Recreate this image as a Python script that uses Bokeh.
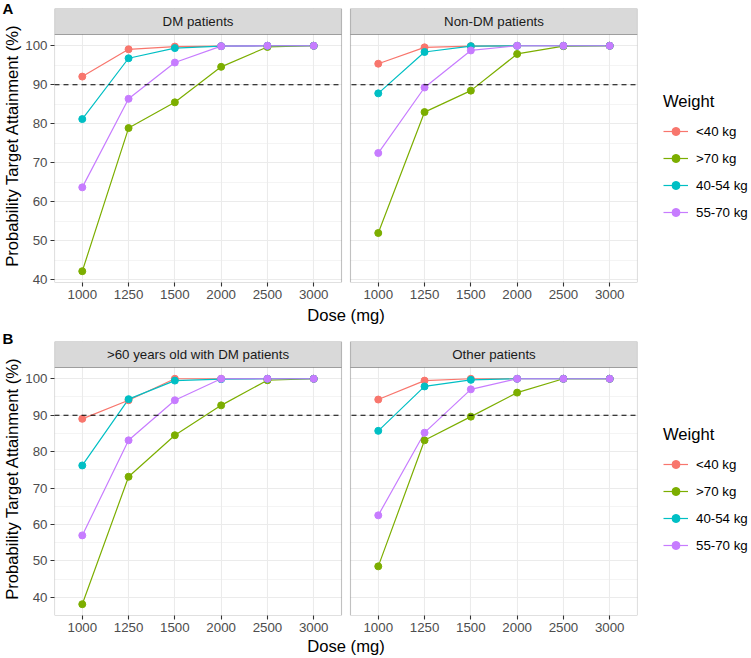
from bokeh.plotting import figure
from bokeh.layouts import column
from bokeh.models import (FactorRange, Range1d, FixedTicker, Span, BoxAnnotation,
                          Label, Legend, LegendItem, Title)
from bokeh.embed import file_html
from bokeh.resources import INLINE

# ---- data -------------------------------------------------------------
doses = ["1000", "1250", "1500", "2000", "2500", "3000"]
weight_groups = ["<40 kg", ">70 kg", "40-54 kg", "55-70 kg"]
group_colors = ["#F8766D", "#7CAE00", "#00BFC4", "#C77CFF"]

dm_lt40 = [92.1, 99.1, 99.8, 99.9, 100, 100]
dm_gt70 = [42.2, 78.9, 85.5, 94.6, 99.7, 100]
dm_40_54 = [81.2, 96.8, 99.4, 99.9, 100, 100]
dm_55_70 = [63.7, 86.4, 95.7, 99.9, 100, 100]

nondm_lt40 = [95.4, 99.6, 99.9, 100, 100, 100]
nondm_gt70 = [52.0, 83.0, 88.5, 97.9, 99.9, 100]
nondm_40_54 = [87.8, 98.4, 99.9, 100, 100, 100]
nondm_55_70 = [72.5, 89.3, 98.8, 100, 100, 100]

old_dm_lt40 = [89.0, 94.1, 100, 100, 100, 100]
old_dm_gt70 = [38.1, 73.1, 84.5, 92.7, 99.6, 100]
old_dm_40_54 = [76.2, 94.4, 99.5, 99.9, 100, 100]
old_dm_55_70 = [57.0, 83.1, 94.1, 100, 100, 100]

other_lt40 = [94.3, 99.5, 100, 100, 100, 100]
other_gt70 = [48.5, 83.1, 89.6, 96.2, 100, 100]
other_40_54 = [85.7, 97.9, 99.7, 100, 100, 100]
other_55_70 = [62.5, 85.2, 97.1, 100, 100, 100]

target_line = 90
y_ticks = [40, 50, 60, 70, 80, 90, 100]
y_minor = [45, 55, 65, 75, 85, 95]

# ---- styling ----------------------------------------------------------
FONT = "Liberation Sans"
FRAME_W, FRAME_H, STRIP_H = 583, 274, 26
BORDER_L, BORDER_R = 54, 114
EDGE = 0.6          # gap from a panel edge to its outer dose, in category units
GAP = 0.194         # white space between the two facets, in category units
DARK = "#333333"
GRID = "#EBEBEB"
N = len(doses)


def y_limits(series):
    lo = min(min(s) for s in series)
    hi = max(max(s) for s in series)
    pad = 0.05 * (hi - lo)
    return lo - pad, hi + pad


def half(tag, tag_standoff, names, panels, border_top, border_bottom, xlab_standoff):
    lo, hi = y_limits([s for ser in panels for s in ser])
    per_unit = (FRAME_H - STRIP_H) / (hi - lo)
    top = hi + STRIP_H / per_unit

    factors = [(nm, d) for nm in names for d in doses]
    xr = FactorRange(*factors, factor_padding=0, group_padding=2 * EDGE + GAP - 1,
                     range_padding=EDGE - 0.5, range_padding_units="absolute")

    p = figure(x_range=xr, y_range=Range1d(lo, top),
               frame_width=FRAME_W, frame_height=FRAME_H,
               min_border_left=BORDER_L, min_border_right=BORDER_R,
               min_border_top=border_top, min_border_bottom=border_bottom,
               title=None, output_backend="svg", toolbar_location=None,
               background_fill_color="white", border_fill_color="white")
    p.outline_line_color = None

    ticker = FixedTicker(ticks=y_ticks, minor_ticks=y_minor)
    p.yaxis.ticker = ticker
    p.ygrid.ticker = ticker
    p.ygrid.grid_line_color = GRID
    p.ygrid.grid_line_width = 1.1
    p.ygrid.minor_grid_line_color = GRID
    p.ygrid.minor_grid_line_width = 0.55
    p.xgrid.grid_line_color = GRID
    p.xgrid.grid_line_width = 1.1

    for ax in (p.xaxis[0], p.yaxis[0]):
        ax.axis_line_color = None
        ax.major_tick_line_color = DARK
        ax.major_tick_line_width = 1.1
        ax.major_tick_out = 4
        ax.major_tick_in = 0
        ax.minor_tick_line_color = None
        ax.major_label_text_font = FONT
        ax.major_label_text_font_size = "13.3px"
        ax.major_label_text_color = "#4D4D4D"
        ax.major_label_standoff = 3
        ax.axis_label_text_font = FONT
        ax.axis_label_text_font_size = "16.6px"
        ax.axis_label_text_font_style = "normal"
        ax.axis_label_text_color = "black"

    # facet names are shown in the strips, not under the axis
    p.xaxis.group_text_color = None
    p.xaxis.group_text_font_size = "0px"
    p.xaxis.separator_line_color = None
    p.xaxis.axis_label = "Dose (mg)"
    p.xaxis.axis_label_standoff = xlab_standoff
    p.yaxis.axis_label = "Probability Target Attainment (%)"
    p.yaxis.axis_label_standoff = 0

    p.add_layout(Span(location=target_line, dimension="width", line_color="black",
                      line_dash="5 4", line_width=1.1))

    # panel extents in category units
    left_edge = -(EDGE - 0.5)
    split_l = N + (EDGE - 0.5)
    split_r = split_l + GAP
    right_edge = split_r + N - 1 + 2 * EDGE
    spans = [(left_edge, split_l), (split_r, right_edge)]

    # blank strip between the facets
    p.add_layout(BoxAnnotation(left=split_l, right=split_r, fill_color="white",
                               fill_alpha=1, line_color=None))

    renderers = []
    for nm, ser, (x0, x1) in zip(names, panels, spans):
        xs = [(nm, d) for d in doses]
        ls = [p.line(xs, vals, line_color=col, line_width=1.2)
              for vals, col in zip(ser, group_colors)]
        ds = [p.scatter(xs, vals, size=7, fill_color=col, line_color=col)
              for vals, col in zip(ser, group_colors)]
        renderers.append((ls, ds))

        p.add_layout(BoxAnnotation(left=x0, right=x1, bottom=lo, top=hi,
                                   fill_alpha=0, line_color=DARK, line_width=1.1))
        p.add_layout(BoxAnnotation(left=x0, right=x1, bottom=hi, top=top,
                                   fill_color="#D9D9D9", fill_alpha=1,
                                   line_color=DARK, line_width=1.1))
        p.add_layout(Label(x=(x0 + x1) / 2, y=(hi + top) / 2, text=nm,
                           text_font=FONT, text_font_size="13.3px",
                           text_color="#1A1A1A", text_align="center",
                           text_baseline="middle"))

    # panel letter in the top-left corner, tucked down beside the strip
    p.add_layout(Title(text=tag, align="left", offset=2 - BORDER_L,
                       standoff=tag_standoff, text_font=FONT, text_font_size="15px",
                       text_font_style="bold", text_color="black"), "above")

    ls, ds = renderers[0]
    items = [LegendItem(label=g, renderers=[l, d])
             for g, l, d in zip(weight_groups, ls, ds)]
    leg = Legend(items=items, location=(26, 60),
                 title="Weight", title_text_font=FONT,
                 title_text_font_size="16.6px", title_text_font_style="normal",
                 title_text_color="black", title_standoff=9,
                 label_text_font=FONT, label_text_font_size="13.3px",
                 label_text_color="black", glyph_width=25, glyph_height=20,
                 label_height=20, spacing=7, padding=0, margin=0,
                 label_standoff=8, border_line_color=None,
                 background_fill_alpha=0)
    p.add_layout(leg, "right")
    return p


fig_a = half("A", -16, ["DM patients", "Non-DM patients"],
             [[dm_lt40, dm_gt70, dm_40_54, dm_55_70],
              [nondm_lt40, nondm_gt70, nondm_40_54, nondm_55_70]], 8, 45, 4)
fig_b = half("B", -11, [">60 years old with DM patients", "Other patients"],
             [[old_dm_lt40, old_dm_gt70, old_dm_40_54, old_dm_55_70],
              [other_lt40, other_gt70, other_40_54, other_55_70]], 14, 43, 2)

open("out.html", "w").write(file_html(column(fig_a, fig_b), INLINE))
